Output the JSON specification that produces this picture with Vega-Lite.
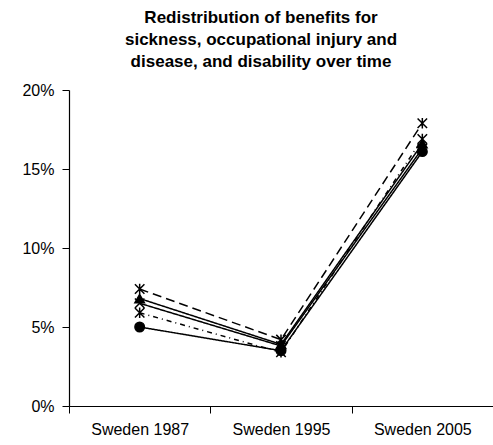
{
  "$schema": "https://vega.github.io/schema/vega-lite/v6.json",
  "width": 424,
  "height": 316,
  "autosize": "none",
  "padding": {"left": 69, "top": 90, "right": 0, "bottom": 39},
  "background": "white",
  "title": {
    "text": ["Redistribution of benefits for", "sickness, occupational injury and", "disease, and disability over time"],
    "font": "Liberation Sans",
    "fontSize": 17,
    "fontWeight": "bold",
    "color": "black",
    "lineHeight": 22,
    "anchor": "middle",
    "frame": "group",
    "dx": -20,
    "offset": 11
  },
  "config": {
    "view": {"stroke": null},
    "axis": {"labelFont": "Liberation Sans", "labelFontSize": 16, "labelColor": "black", "domainColor": "black", "tickColor": "black", "grid": false, "title": null}
  },
  "data": {
    "values": [
      {"series": "A", "year": "Sweden 1987", "value": 0.074},
      {"series": "A", "year": "Sweden 1995", "value": 0.042},
      {"series": "A", "year": "Sweden 2005", "value": 0.179},
      {"series": "B", "year": "Sweden 1987", "value": 0.068},
      {"series": "B", "year": "Sweden 1995", "value": 0.039},
      {"series": "B", "year": "Sweden 2005", "value": 0.166},
      {"series": "C", "year": "Sweden 1987", "value": 0.065},
      {"series": "C", "year": "Sweden 1995", "value": 0.038},
      {"series": "C", "year": "Sweden 2005", "value": 0.163},
      {"series": "D", "year": "Sweden 1987", "value": 0.059},
      {"series": "D", "year": "Sweden 1995", "value": 0.034},
      {"series": "D", "year": "Sweden 2005", "value": 0.169},
      {"series": "E", "year": "Sweden 1987", "value": 0.050},
      {"series": "E", "year": "Sweden 1995", "value": 0.035},
      {"series": "E", "year": "Sweden 2005", "value": 0.161}
    ]
  },
  "encoding": {
    "x": {
      "field": "year", "type": "nominal",
      "scale": {"type": "band", "paddingInner": 0, "paddingOuter": 0},
      "axis": {"labelAngle": 0, "tickBand": "extent", "tickSize": 7, "labelPadding": 8, "domainWidth": 1.2}
    },
    "y": {
      "field": "value", "type": "quantitative",
      "scale": {"domain": [0, 0.2]},
      "axis": {"values": [0, 0.05, 0.1, 0.15, 0.2], "format": ".0%", "tickSize": 7, "labelPadding": 8, "domainWidth": 1.2}
    }
  },
  "layer": [
    {
      "mark": {"type": "line", "color": "black", "strokeWidth": 1.5},
      "encoding": {
        "detail": {"field": "series"},
        "strokeDash": {
          "field": "series", "type": "nominal", "legend": null,
          "scale": {"domain": ["A", "B", "C", "D", "E"], "range": [[9, 5], [1, 0], [1, 0], [5, 4, 1, 4], [1, 0]]}
        }
      }
    },
    {
      "mark": {"type": "point", "filled": true, "color": "black", "stroke": "black", "strokeWidth": 1.5, "size": 90, "opacity": 1},
      "encoding": {
        "shape": {
          "field": "series", "type": "nominal", "legend": null,
          "scale": {"domain": ["A", "B", "C", "D", "E"], "range": ["M-1,-1L1,1M-1,1L1,-1M0,-1.1L0,1.1", "triangle-up", "M-1,-1L1,1M-1,1L1,-1", "M-1,-1L1,1M-1,1L1,-1M0,-1.1L0,1.1", "circle"]}
        }
      }
    }
  ]
}
